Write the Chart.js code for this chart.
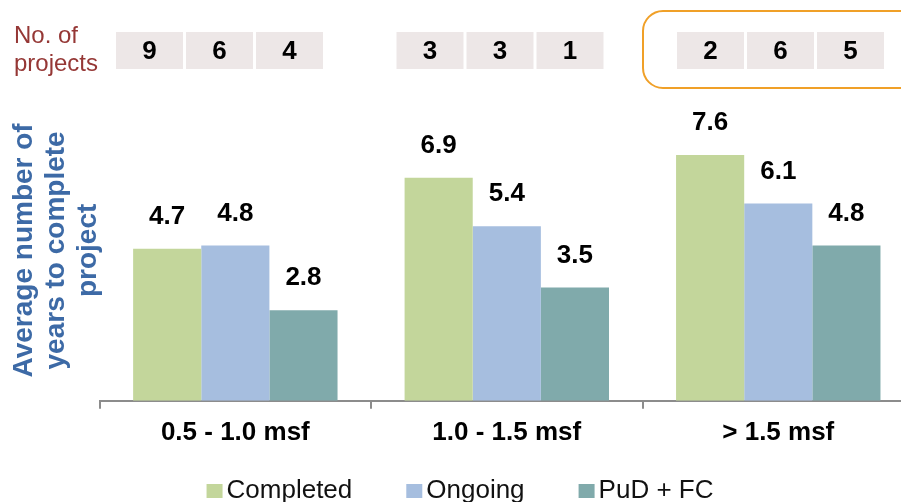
<!DOCTYPE html>
<html>
<head>
<meta charset="utf-8">
<script src="https://cdn.jsdelivr.net/npm/chart.js@4"></script>
<style>
  html, body { margin: 0; padding: 0; overflow: hidden; background: #fff; }
  canvas { display: block; }
</style>
</head>
<body>
<canvas id="chart" width="915" height="502"></canvas>
<script>
const categories = ['0.5 - 1.0 msf', '1.0 - 1.5 msf', '> 1.5 msf'];
const seriesNames = ['Completed', 'Ongoing', 'PuD + FC'];
const completed = [4.7, 6.9, 7.6];
const ongoing = [4.8, 5.4, 6.1];
const pudFc = [2.8, 3.5, 4.8];
const completedCount = [9, 3, 2];
const ongoingCount = [6, 3, 6];
const pudFcCount = [4, 1, 5];
const yTitle = ['Average number of', 'years to complete', 'project'];
const rowLabel = ['No. of', 'projects'];
const highlightGroup = 2;

const FONT = "'Liberation Sans', Arial, sans-serif";
const colors = ['#c3d69b', '#a6bedf', '#80aaab'];

// "No. of projects" row drawn above the plot
const projectsRow = {
    id: 'projectsRow',
    afterDraw(chart) {
        const ctx = chart.ctx;
        const counts = [completedCount, ongoingCount, pudFcCount];
        const x0 = 116, boxW = 67, step = 70, pitch = 280.5, top = 32, h = 37;
        ctx.save();
        ctx.fillStyle = '#953735';
        ctx.font = '24px ' + FONT;
        ctx.textAlign = 'left';
        ctx.textBaseline = 'alphabetic';
        ctx.fillText(rowLabel[0], 14, 43);
        ctx.fillText(rowLabel[1], 14, 71);

        ctx.font = 'bold 26px ' + FONT;
        ctx.textAlign = 'center';
        ctx.textBaseline = 'middle';
        categories.forEach((c, g) => {
            counts.forEach((arr, s) => {
                const bx = x0 + g * pitch + s * step;
                ctx.fillStyle = '#ede7e7';
                ctx.fillRect(bx, top, boxW, h);
                ctx.fillStyle = '#000';
                ctx.fillText(String(arr[g]), bx + boxW / 2, top + h / 2 + 1);
            });
        });

        // orange rounded frame around the highlighted group
        const l = x0 + highlightGroup * pitch - 34, t = 11, r = chart.width + 30, b = 88, rad = 20;
        ctx.beginPath();
        ctx.moveTo(l + rad, t);
        ctx.lineTo(r, t);
        ctx.lineTo(r, b);
        ctx.lineTo(l + rad, b);
        ctx.arcTo(l, b, l, b - rad, rad);
        ctx.lineTo(l, t + rad);
        ctx.arcTo(l, t, l + rad, t, rad);
        ctx.strokeStyle = '#f0a028';
        ctx.lineWidth = 2;
        ctx.stroke();
        ctx.restore();
    }
};

// value labels above bars
const valueLabels = {
    id: 'valueLabels',
    afterDatasetsDraw(chart) {
        const ctx = chart.ctx;
        ctx.save();
        ctx.font = 'bold 26px ' + FONT;
        ctx.fillStyle = '#000';
        ctx.textAlign = 'center';
        ctx.textBaseline = 'middle';
        chart.data.datasets.forEach((ds, i) => {
            chart.getDatasetMeta(i).data.forEach((bar, j) => {
                ctx.fillText(ds.data[j].toFixed(1), bar.x, bar.y - 32);
            });
        });
        ctx.restore();
    }
};

// legend row at the bottom
const bottomLegend = {
    id: 'bottomLegend',
    afterDraw(chart) {
        const ctx = chart.ctx;
        ctx.save();
        ctx.font = '26px ' + FONT;
        ctx.textBaseline = 'middle';
        ctx.textAlign = 'left';
        const sq = 16, gap = 4, sep = 54, cy = 491;
        const items = chart.data.datasets.map(ds => ({ label: ds.label, color: ds.backgroundColor, w: ctx.measureText(ds.label).width }));
        const total = items.reduce((a, it) => a + sq + gap + it.w, 0) + sep * (items.length - 1);
        let x = 460 - total / 2;
        items.forEach(it => {
            ctx.fillStyle = it.color;
            ctx.fillRect(x, cy - 7, sq, 14);
            ctx.fillStyle = '#111';
            ctx.fillText(it.label, x + sq + gap, cy);
            x += sq + gap + it.w + sep;
        });
        ctx.restore();
    }
};

new Chart(document.getElementById('chart').getContext('2d'), {
    type: 'bar',
    data: {
        labels: categories,
        datasets: [
            { label: seriesNames[0], data: completed, backgroundColor: colors[0] },
            { label: seriesNames[1], data: ongoing, backgroundColor: colors[1] },
            { label: seriesNames[2], data: pudFc, backgroundColor: colors[2] }
        ]
    },
    options: {
        responsive: false,
        animation: false,
        categoryPercentage: 0.753,
        barPercentage: 1,
        layout: { padding: { top: 100, bottom: 46, left: 0, right: 1 } },
        plugins: {
            legend: { display: false },
            tooltip: { enabled: false }
        },
        scales: {
            x: {
                grid: { display: true, drawOnChartArea: false, drawTicks: true, tickLength: 8, color: '#8c8c8c', lineWidth: 2, offset: true },
                border: { display: true, color: '#8c8c8c', width: 2 },
                ticks: { color: '#000', font: { family: FONT, size: 26, weight: 'bold' }, padding: 8, maxRotation: 0 }
            },
            y: {
                min: 0,
                max: 9.3,
                grid: { display: false, drawTicks: false },
                border: { display: false },
                ticks: { display: false },
                title: {
                    display: true,
                    text: yTitle,
                    color: '#3d6aa6',
                    font: { family: FONT, size: 28, weight: 'bold', lineHeight: 1.15 },
                    padding: { top: 8, bottom: -5 }
                }
            }
        }
    },
    plugins: [projectsRow, valueLabels, bottomLegend]
});
</script>
</body>
</html>
